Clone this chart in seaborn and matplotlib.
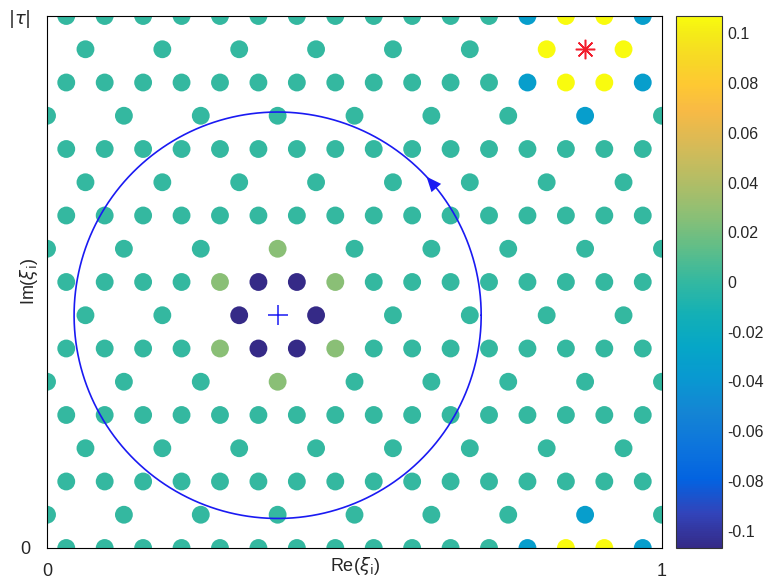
import numpy as np
import pandas as pd
import seaborn as sns
import matplotlib
matplotlib.use("Agg")
import matplotlib.pyplot as plt
from matplotlib.colors import LinearSegmentedColormap, Normalize
from matplotlib.cm import ScalarMappable

# x positions of the three kinds of lattice rows
full_row_x = [0.03125, 0.09375, 0.15625, 0.21875, 0.28125, 0.34375, 0.40625, 0.46875,
              0.53125, 0.59375, 0.65625, 0.71875, 0.78125, 0.84375, 0.90625, 0.96875]
odd_row_x = [0.0625, 0.1875, 0.3125, 0.4375, 0.5625, 0.6875, 0.8125, 0.9375]
even_row_x = [0.0, 0.125, 0.25, 0.375, 0.5, 0.625, 0.75, 0.875, 1.0]

row_y = [0.0, 0.0625, 0.125, 0.1875, 0.25, 0.3125, 0.375, 0.4375, 0.5,
         0.5625, 0.625, 0.6875, 0.75, 0.8125, 0.875, 0.9375, 1.0]
row_kind = ["full", "even", "full", "odd", "full", "even", "full", "odd", "full",
            "even", "full", "odd", "full", "even", "full", "odd", "full"]

# value of most sites, then the sites that differ
base_value = 0.0
special_x = [0.3125, 0.4375, 0.34375, 0.40625, 0.34375, 0.40625,
             0.375, 0.375, 0.28125, 0.46875, 0.28125, 0.46875,
             0.8125, 0.9375, 0.84375, 0.90625, 0.84375, 0.90625, 0.84375, 0.90625,
             0.78125, 0.96875, 0.78125, 0.96875, 0.78125, 0.96875, 0.875, 0.875]
special_y = [0.4375, 0.4375, 0.5, 0.5, 0.375, 0.375,
             0.5625, 0.3125, 0.5, 0.5, 0.375, 0.375,
             0.9375, 0.9375, 0.875, 0.875, 1.0, 1.0, 0.0, 0.0,
             0.875, 0.875, 1.0, 1.0, 0.0, 0.0, 0.8125, 0.0625]
special_value = [-0.107, -0.107, -0.107, -0.107, -0.107, -0.107,
                 0.026, 0.026, 0.026, 0.026, 0.026, 0.026,
                 0.107, 0.107, 0.107, 0.107, 0.107, 0.107, 0.107, 0.107,
                 -0.033, -0.033, -0.033, -0.033, -0.033, -0.033, -0.033, -0.033]

color_limit = 0.107
cbar_ticks = [-0.1, -0.08, -0.06, -0.04, -0.02, 0, 0.02, 0.04, 0.06, 0.08, 0.1]
cbar_labels = ["-0.1", "-0.08", "-0.06", "-0.04", "-0.02", "0",
               "0.02", "0.04", "0.06", "0.08", "0.1"]

# loop centre / radii and the marked site
loop_center = (0.375, 0.4375)
loop_radius = (0.331, 0.382)
star_site = (0.875, 0.9375)

# parula anchors, placed at their index in the 64-entry table
parula_idx = [0, 4, 8, 12, 16, 20, 24, 28, 32, 36, 40, 44, 48, 52, 55, 58, 61, 63]
parula_rgb = [
    (0.2081, 0.1663, 0.5292), (0.1959, 0.2645, 0.7279), (0.0117, 0.3875, 0.8820),
    (0.0498, 0.4586, 0.8641), (0.0793, 0.5200, 0.8312), (0.0343, 0.5966, 0.8199),
    (0.0228, 0.6535, 0.7768), (0.0843, 0.6928, 0.7062), (0.2178, 0.7250, 0.6193),
    (0.3953, 0.7459, 0.5244), (0.5709, 0.7485, 0.4494), (0.7184, 0.7411, 0.3905),
    (0.8507, 0.7299, 0.3360), (0.9739, 0.7314, 0.2666), (0.9955, 0.7861, 0.1967),
    (0.9697, 0.8481, 0.1475), (0.9598, 0.9218, 0.0948), (0.9763, 0.9831, 0.0538)]
parula = LinearSegmentedColormap.from_list(
    "parula", [(i / 63, c) for i, c in zip(parula_idx, parula_rgb)])

TEXT = (0.15, 0.15, 0.15)


def build_sites():
    row_x = {"full": full_row_x, "odd": odd_row_x, "even": even_row_x}
    special = {(round(x, 5), round(y, 5)): v
               for x, y, v in zip(special_x, special_y, special_value)}
    rows = []
    for y, kind in zip(row_y, row_kind):
        for x in row_x[kind]:
            rows.append({"x": x, "y": y,
                         "value": special.get((round(x, 5), round(y, 5)), base_value)})
    return pd.DataFrame(rows)


def plot_sites(df, save_path):
    sns.set_style("white")
    plt.rcParams["font.family"] = ["Liberation Sans", "DejaVu Sans"]
    plt.rcParams["axes.unicode_minus"] = False

    fig = plt.figure(figsize=(7.66, 5.8), dpi=100)
    ax = fig.add_axes([0.0614, 0.0552, 0.8028, 0.9172])
    norm = Normalize(-color_limit, color_limit)

    sns.scatterplot(data=df, x="x", y="y", hue="value", palette=parula, hue_norm=norm,
                    s=165, linewidth=0, legend=False, ax=ax)

    cx, cy = loop_center
    rx, ry = loop_radius
    theta = np.linspace(0, 2 * np.pi, 400)
    ax.plot(cx + rx * np.cos(theta), cy + ry * np.sin(theta), color=(0.1, 0.1, 0.95), lw=1.2)
    a0, a1 = np.radians(38.5), np.radians(43.0)
    ax.annotate("", xy=(cx + rx * np.cos(a1), cy + ry * np.sin(a1)),
                xytext=(cx + rx * np.cos(a0), cy + ry * np.sin(a0)),
                arrowprops=dict(arrowstyle="-|>,head_length=0.9,head_width=0.38",
                                mutation_scale=12, color=(0.1, 0.1, 0.95), lw=0,
                                shrinkA=0, shrinkB=0))
    ax.plot(cx, cy, marker="+", markersize=15, mew=1.1, color=(0.1, 0.1, 0.95))
    ax.plot(*star_site, marker=(8, 2, 0), markersize=14, mew=1.1, color=(0.95, 0.12, 0.18))

    ax.set_xlim(0, 1)
    ax.set_ylim(0, 1)
    ax.set_xticks([0, 1])
    ax.set_xticklabels(["0", "1"])
    ax.set_yticks([0, 1])
    ax.set_yticklabels(["0", r"$|\tau|$"])
    ax.tick_params(length=0, labelsize=13, colors=TEXT)
    ax.tick_params(axis="x", pad=11)
    ax.tick_params(axis="y", pad=12)
    ax.set_xlabel(r"Re($\xi_{\rm i}$)", fontsize=13, color=TEXT)
    ax.set_ylabel(r"Im($\xi_{\rm i}$)", fontsize=13, color=TEXT)
    ax.xaxis.set_label_coords(0.5, -0.014)
    ax.yaxis.set_label_coords(-0.012, 0.5)
    for spine in ax.spines.values():
        spine.set_color("black")
        spine.set_linewidth(0.8)

    cax = fig.add_axes([0.8825, 0.0552, 0.060, 0.9172])
    cb = fig.colorbar(ScalarMappable(norm=norm, cmap=parula), cax=cax, ticks=cbar_ticks)
    cb.ax.set_yticklabels(cbar_labels)
    cb.ax.tick_params(direction="in", length=4, width=0.6, labelsize=11.5, colors=TEXT, pad=4)
    cb.outline.set_edgecolor((0.2, 0.2, 0.2))
    cb.outline.set_linewidth(0.8)

    fig.savefig(save_path, dpi=100)
    plt.close(fig)


if __name__ == "__main__":
    sites = build_sites()
    plot_sites(sites, "out.png")
